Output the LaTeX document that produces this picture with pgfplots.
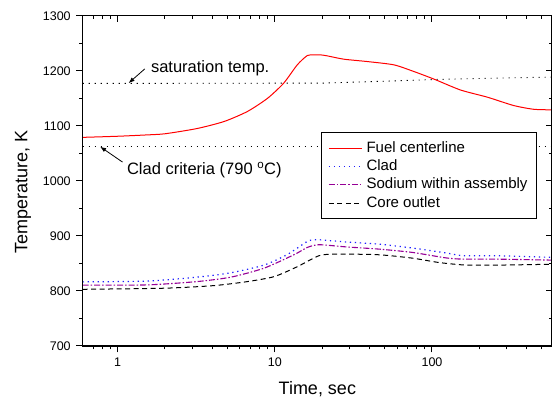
\documentclass[border=0pt]{standalone}
\usepackage{fontspec}
\setmainfont{Liberation Sans}
\usepackage{pgfplots}
\pgfplotsset{compat=1.18}
\usetikzlibrary{arrows.meta}
\definecolor{cladblue}{RGB}{30,30,255}
\definecolor{sodium}{RGB}{150,0,150}
\begin{document}
\begin{tikzpicture}
\begin{axis}[
  width=469.3pt, height=330.3pt, scale only axis,
  xmode=log, xmin=0.6, xmax=580, ymin=700, ymax=1300,
  xtick={1,10,100},
  minor xtick={0.7,0.8,0.9,2,3,4,5,6,7,8,9,20,30,40,50,60,70,80,90,200,300,400,500},
  ytick={700,800,...,1300}, minor ytick={750,850,...,1250},
  axis line style={line width=1.2pt},
  every tick/.style={black, line width=1pt},
  major tick length=6.5pt, minor tick length=3.5pt,
  /pgf/number format/assume math mode=true,
  /pgf/number format/1000 sep={},
  tick align=outside, xtick pos=left, ytick pos=left,
  xticklabels={1,10,100},
  xticklabel style={font=\fontsize{12.5}{14}\selectfont, yshift=-2pt},
  yticklabel style={font=\fontsize{12.5}{14}\selectfont, xshift=-2pt},
  xlabel={Time, sec}, ylabel={Temperature, K},
  label style={font=\fontsize{18}{21}\selectfont},
  xlabel style={at={(axis description cs:0.5,-0.130)}, anchor=center},
  ylabel style={at={(axis description cs:-0.127,0.467)}, anchor=center},
  legend style={at={(axis description cs:0.507,0.647)}, anchor=north west,
    draw=black, line width=0.9pt, fill=white, inner xsep=7.3pt, inner ysep=6.4pt,
    font=\fontsize{15}{18}\selectfont,
    nodes={inner sep=2pt, text height=11pt, text depth=3pt},
    row sep=0.3pt, column sep=2pt},
  legend cell align=left,
  legend image code/.code={\draw[#1] (0pt,0pt) -- (33pt,0pt);},
]
% reference lines
\addplot[forget plot, black, line width=0.9pt, dash pattern=on 1.1pt off 4.9pt] coordinates {
(0.6,1177) (20,1177.5) (50,1181) (100,1184) (250,1186.5) (580,1188.5)};
\addplot[forget plot, black, line width=0.9pt, dash pattern=on 1.1pt off 4.9pt] coordinates {
(0.6,1063) (580,1063)};
% Fuel centerline
\addplot[red, line width=1pt, smooth, tension=0.4] coordinates {
(0.6,1079) (1.0,1081) (1.5,1083.3) (2.0,1085.5) (3.2,1095) (4.76,1107.8) (6.7,1126)
(9.0,1150) (11.4,1177.5) (13.9,1210.7) (16.1,1227.6) (17.8,1229) (19.6,1228.8)
(21.6,1227) (27.5,1221) (38.8,1216.7) (57.3,1210.7) (76.9,1198.5) (103,1184.8)
(152,1165) (225,1152) (331,1136.8) (444,1130) (580,1129)};
\addlegendentry{Fuel centerline}
% Clad
\addplot[cladblue, line width=1.2pt, dash pattern=on 1.3pt off 3.7pt, smooth, tension=0.4] coordinates {
(0.6,816.5) (1.55,818) (3.2,825) (5.25,833) (8.55,847) (12.0,866) (16.1,890)
(17.5,892.5) (19.1,893) (28.4,889) (46,885) (75,878) (123,869) (157,864)
(255,864) (580,861)};
\addlegendentry{Clad}
% Sodium
\addplot[sodium, line width=1.1pt, dash pattern=on 6pt off 2pt on 1.5pt off 2pt, smooth, tension=0.4] coordinates {
(0.6,810.5) (1.55,811) (3.2,817) (5.25,825) (8.55,841.4) (13.3,866) (16.1,879)
(19.1,884) (28.4,880) (46,876) (75,870) (123,860) (157,857.8) (255,857.8) (580,856)};
\addlegendentry{Sodium within assembly}
% Core outlet
\addplot[black, line width=1pt, dash pattern=on 5pt off 3.5pt, smooth, tension=0.4] coordinates {
(0.6,803) (2.0,805) (4.1,809.7) (6.7,817) (9.9,826) (13.9,844) (19.1,864)
(24.6,867) (46,865.7) (75,859.6) (111,851.6) (164,847) (270,847) (580,848.5)};
\addlegendentry{Core outlet}
% annotations
\node[anchor=west, inner sep=0pt, font=\fontsize{16.5}{19}\selectfont] at (axis cs:1.628,1204) {saturation temp.};
\draw[line width=0.8pt, -{Latex[length=6pt,width=4.5pt]}] (axis cs:1.49,1203.4) -- (axis cs:1.175,1177.5);
\node[anchor=west, inner sep=0pt, font=\fontsize{16.5}{19}\selectfont] at (axis cs:1.146,1020) {Clad criteria (790 \textsuperscript{o}C)};
\draw[line width=0.8pt, -{Latex[length=6pt,width=4.5pt]}] (axis cs:1.076,1034) -- (axis cs:0.775,1062);
\end{axis}
\begin{axis}[
  width=469.3pt, height=330.3pt, scale only axis,
  xmode=log, xmin=0.6, xmax=580, ymin=700, ymax=1300,
  xtick={1,10,100},
  minor xtick={0.7,0.8,0.9,2,3,4,5,6,7,8,9,20,30,40,50,60,70,80,90,200,300,400,500},
  ytick={700,800,...,1300}, minor ytick={750,850,...,1250},
  axis line style={line width=1.2pt},
  every tick/.style={black, line width=1pt},
  major tick length=6.5pt, minor tick length=3.5pt,
  tick align=inside, xtick pos=right, ytick pos=right,
  xticklabels={}, yticklabels={}]
\end{axis}
\pgfresetboundingbox
\path[use as bounding box] (-82.7pt,-57pt) rectangle (469.3pt,346pt);
\end{tikzpicture}
\end{document}
